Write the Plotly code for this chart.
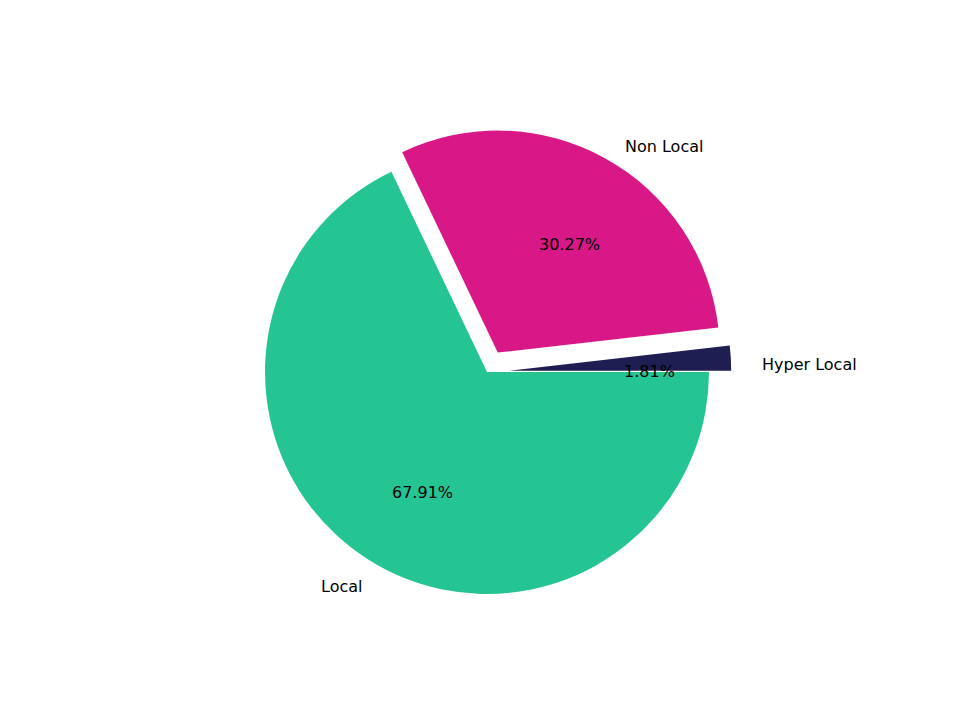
import math
import plotly.graph_objects as go

labels = ["Hyper Local", "Non Local", "Local"]
values = [1.81, 30.27, 67.91]
colors = ["#1e1e52", "#d81886", "#25c493"]
pulls = [0.1, 0.1, 0.0]

# pie geometry in pixels (matplotlib-like layout)
W, H = 960, 720
cx, cy, r = 486, 372, 222
ext = r * (1 + max(pulls))
total = sum(values)

fig = go.Figure(go.Pie(
    labels=labels, values=values, sort=False,
    direction="counterclockwise", rotation=90 - values[0] / total * 360,
    pull=pulls, marker=dict(colors=colors, line=dict(width=0)),
    textinfo="none", hoverinfo="label+percent", showlegend=False,
    domain=dict(x=[(cx - 7 - ext) / W, (cx - 7 + ext) / W],
                y=[1 - (cy - 8 + ext) / H, 1 - (cy - 8 - ext) / H]),
))

start = 0.0
annotations = []
for lab, v, p in zip(labels, values, pulls):
    mid = math.radians(start * 360 / total + v / total * 180)
    start += v
    ca, sa = math.cos(mid), math.sin(mid)
    ox, oy = p * r * ca, p * r * sa
    # percent label at 0.6 r, category label at 1.1 r
    px, py = cx + ox + 0.6 * r * ca, cy - oy - 0.6 * r * sa
    lx, ly = cx + ox + 1.1 * r * ca, cy - oy - 1.1 * r * sa
    annotations.append(dict(x=px / W, y=1 - py / H, xref="paper", yref="paper",
                            text=f"{v:.2f}%", showarrow=False,
                            xanchor="center", yanchor="middle"))
    annotations.append(dict(x=lx / W, y=1 - ly / H, xref="paper", yref="paper",
                            text=lab, showarrow=False,
                            xanchor="left" if ca > 0 else "right",
                            yanchor="middle"))

fig.update_layout(
    width=W, height=H,
    margin=dict(l=0, r=0, t=0, b=0),
    paper_bgcolor="white", plot_bgcolor="white",
    font=dict(family="DejaVu Sans", size=16, color="black"),
    annotations=annotations,
)

fig.write_html("out.html")
